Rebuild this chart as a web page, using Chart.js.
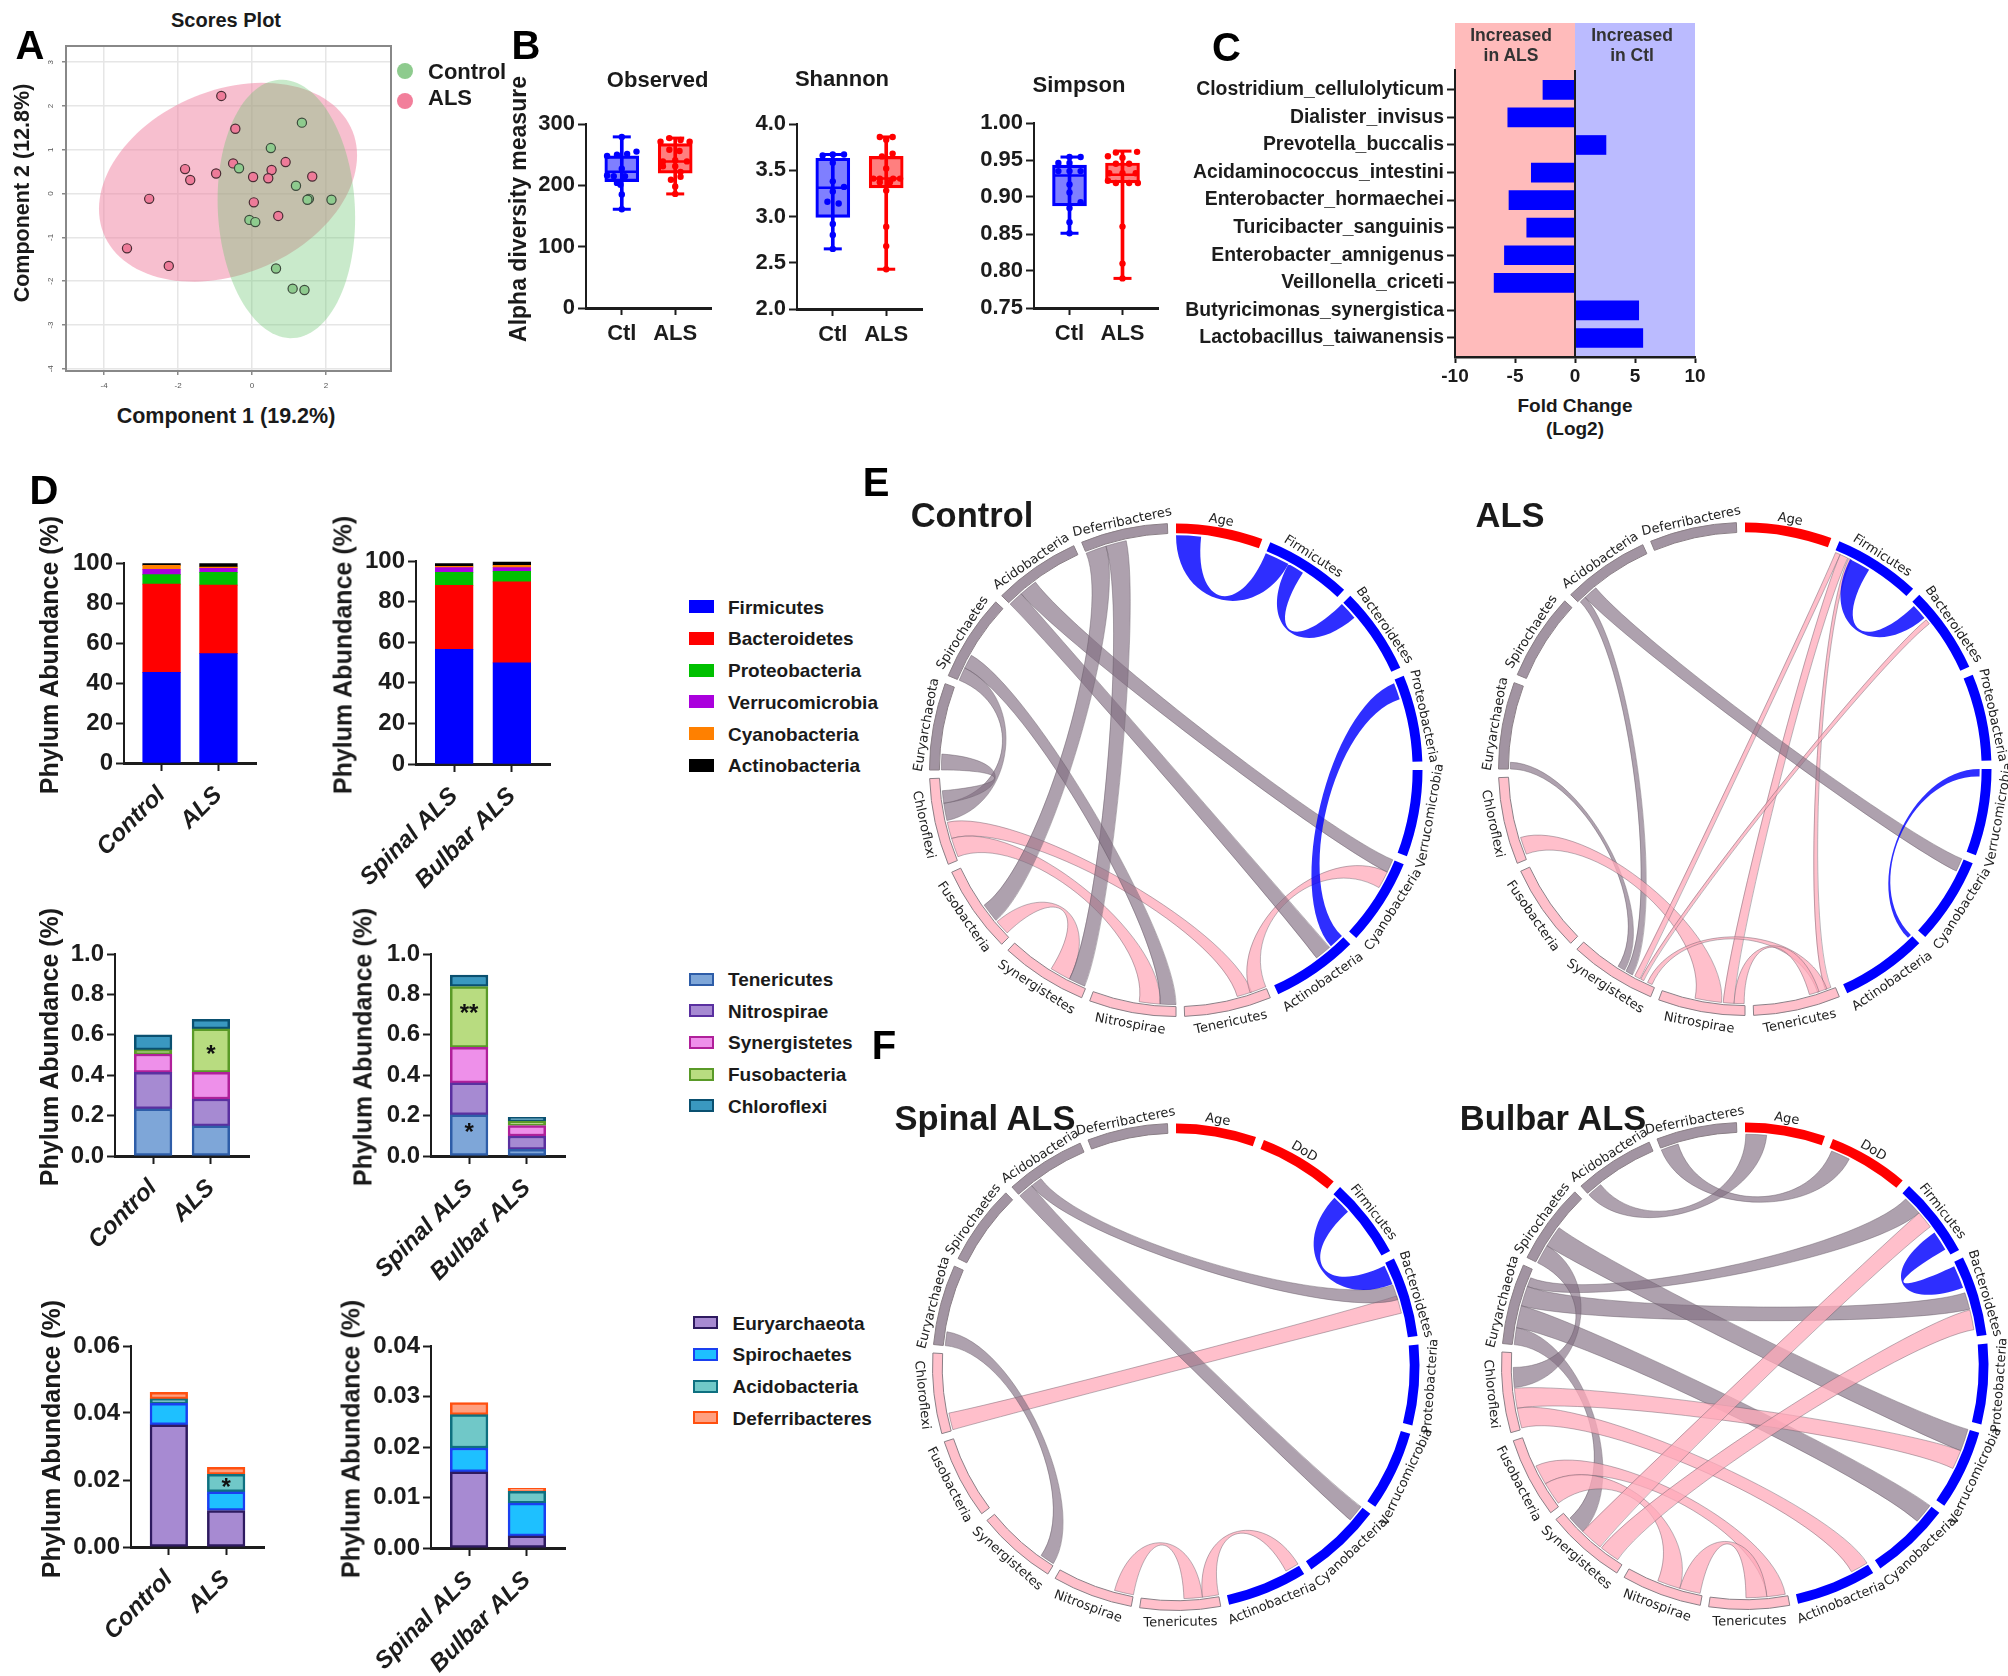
<!DOCTYPE html>
<html>
<head>
<meta charset="utf-8">
<title>ALS microbiome figure</title>
<script src="https://cdn.jsdelivr.net/npm/chart.js"></script>
<style>
html, body { margin: 0; background: #fff; overflow: hidden; }
#page { position: relative; width: 2008px; height: 1676px; overflow: hidden; }
canvas { position: absolute; }
.t { position: absolute; white-space: pre; font-family: 'Liberation Sans', Arial, sans-serif; transform-origin: center; color: #1a1a1a; line-height: 1; }
.sw { position: absolute; box-sizing: border-box; }
</style>
</head>
<body>
<div id="page"></div>
<script>
// --- panel A
const alsScores = [[-0.83,2.23],[-0.45,1.48],[-0.51,0.69],[-1.81,0.56],[-1.67,0.31],[-0.97,0.46],[0.03,0.38],[0.53,0.54],[0.44,0.35],[0.91,0.72],[1.63,0.39],[0.05,-0.2],[0.71,-0.51],[-2.78,-0.12],[-3.38,-1.25],[-2.25,-1.65]]
const ctlScores = [[1.35,1.62],[0.51,1.04],[-0.35,0.58],[1.19,0.18],[1.54,-0.12],[1.5,-0.14],[2.15,-0.14],[-0.07,-0.6],[0.09,-0.65],[0.65,-1.71],[1.1,-2.17],[1.42,-2.2]]
// cx, cy, half width, half height, correlation
const alsEllipse = [-0.648, 0.259, 3.49, 2.27, 0.27]
const ctlEllipse = [0.93, -0.35, 1.86, 2.95, -0.07]

// --- panel B: min, q1, median, q3, max
const obsCtlBox = [161, 206, 222, 248, 279]
const obsAlsBox = [186, 220, 239, 268, 277]
const obsCtlPts = [[0,279],[-0.275,248],[-0.09,250],[0.1,251],[0.275,255],[-0.275,216],[-0.15,215],[0,227],[0.06,215],[-0.09,204],[-0.025,201],[0,185],[0,161]]
const obsAlsPts = [[0.89,277],[1.1,274],[0.725,271],[1.27,271],[0.89,258],[1.08,256],[0.77,239],[1,241],[1.22,239],[0.77,231],[1,231],[1.1,222],[1.1,214],[0.92,209],[1,198],[1,186]]
const shaCtlBox = [2.65, 2.99, 3.31, 3.63, 3.67]
const shaAlsBox = [2.43, 3.31, 3.41, 3.65, 3.86]
const shaCtlPts = [[-0.19,3.66],[0,3.67],[0.21,3.67],[0,3.58],[0,3.38],[0.21,3.32],[0,3.27],[-0.1,3.16],[0.11,3.14],[0,2.92],[0,2.8],[0,2.65]]
const shaAlsPts = [[0.88,3.86],[1.12,3.86],[1,3.83],[1.12,3.68],[0.92,3.65],[1,3.52],[0.76,3.41],[0.88,3.41],[1.13,3.41],[1.26,3.41],[0.88,3.37],[1.07,3.37],[1,3.28],[1,2.89],[1,2.68],[1,2.43]]
const simCtlBox = [0.851, 0.888, 0.929, 0.943, 0.954]
const simAlsBox = [0.79, 0.919, 0.93, 0.946, 0.962]
const simCtlPts = [[-0.21,0.946],[0,0.954],[0.21,0.954],[0,0.946],[-0.21,0.935],[0,0.935],[0.21,0.935],[0,0.917],[0,0.906],[0.21,0.893],[0,0.885],[0,0.866],[0,0.851]]
const simAlsPts = [[0.875,0.96],[1.275,0.961],[0.725,0.955],[1,0.953],[0.875,0.945],[1.125,0.945],[1,0.932],[0.75,0.932],[1.25,0.932],[0.725,0.922],[0.875,0.919],[1.125,0.919],[1.29,0.919],[1,0.86],[1,0.81],[1,0.79]]

// --- panel C
const speciesNames = ['Clostridium_cellulolyticum','Dialister_invisus','Prevotella_buccalis','Acidaminococcus_intestini','Enterobacter_hormaechei','Turicibacter_sanguinis','Enterobacter_amnigenus','Veillonella_criceti','Butyricimonas_synergistica','Lactobacillus_taiwanensis']
const foldChange = [-2.67, -5.6, 2.58, -3.64, -5.5, -4.02, -5.88, -6.74, 5.31, 5.65]

// --- panel D
const majorPhyla = ['Firmicutes','Bacteroidetes','Proteobacteria','Verrucomicrobia','Cyanobacteria','Actinobacteria']
const majorFill = ['#0000ff','#ff0000','#00c000','#aa00dd','#ff8000','#000000']
const midPhyla = ['Tenericutes','Nitrospirae','Synergistetes','Fusobacteria','Chloroflexi']
const midFill = ['#7ea6d8','#a68ad2','#ee90ea','#b8dc80','#3a98c0']
const midEdge = ['#2e5da8','#5a30a0','#b0209a','#5a9a28','#0a5070']
const minorPhyla = ['Euryarchaeota','Spirochaetes','Acidobacteria','Deferribacteres']
const minorFill = ['#a78ad2','#1ec0ff','#70c8c8','#ffa080']
const minorEdge = ['#2e1a60','#1a40f0','#0e7080','#ff5010']

const groupCtlAls = ['Control','ALS']
const groupOnset = ['Spinal ALS','Bulbar ALS']
const majorCtl = [45.3, 44.1, 4.8, 2.6, 2.0, 0.9]
const majorAls = [54.7, 34.2, 6.4, 2.0, 0.7, 1.7]
const majorSpinal = [56.5, 31.5, 6.4, 2.3, 0.7, 1.3]
const majorBulbar = [49.8, 39.9, 5.2, 1.8, 1.2, 1.6]
const midCtl = [0.234, 0.18, 0.091, 0.02, 0.075]
const midAls = [0.149, 0.133, 0.132, 0.215, 0.048]
const midSpinal = [0.204, 0.158, 0.176, 0.301, 0.057]
const midBulbar = [0.033, 0.066, 0.052, 0.022, 0.019]
const minorCtl = [0.0365, 0.0064, 0.0013, 0.002]
const minorAls = [0.0109, 0.0056, 0.0052, 0.0021]
const minorSpinal = [0.0151, 0.0047, 0.0066, 0.0024]
const minorBulbar = [0.0024, 0.0065, 0.0023, 0.0006]
// bar, value, text
const midStarsAls = [[1, 0.521, '*']]
const midStarsOnset = [[0, 0.724, '**'], [0, 0.135, '*']]
const minorStarsAls = [[1, 0.0189, '*']]

// --- panels E, F: sectors are listed clockwise from the top
const sectorsE = ['Age','Firmicutes','Bacteroidetes','Proteobacteria','Verrucomicrobia','Cyanobacteria','Actinobacteria','Tenericutes','Nitrospirae','Synergistetes','Fusobacteria','Chloroflexi','Euryarchaeota','Spirochaetes','Acidobacteria','Deferribacteres']
const sectorsF = ['Age','DoD','Firmicutes','Bacteroidetes','Proteobacteria','Verrucomicrobia','Cyanobacteria','Actinobacteria','Tenericutes','Nitrospirae','Synergistetes','Fusobacteria','Chloroflexi','Euryarchaeota','Spirochaetes','Acidobacteria','Deferribacteres']
// sector A, from, to (share of the sector), sector B, from, to, kind
const linksControl = [
  [11,0.27,0.47, 7,0.18,0.36,'p'], [11,0.04,0.27, 8,0.19,0.44,'p'], [10,0.05,0.23, 9,0.22,0.47,'p'],
  [5,0.16,0.37, 7,0,0.2,'p'],
  [14,0.18,0.4, 5,0,0.16,'g'], [14,0,0.18, 6,0.2,0.4,'g'], [15,0,0.25, 10,0.25,0.48,'g'], [15,0.25,0.5, 9,0.02,0.22,'g'],
  [13,0.16,0.33, 8,0,0.19,'g'], [13,0,0.16, 11,0.49,0.7,'g'], [12,0,0.19, 11,0.7,0.85,'g'],
  [0,0,0.3, 1,0,0.3,'b'], [1,0.3,0.5, 2,0,0.22,'b'], [3,0.04,0.24, 6,0,0.18,'b']
]
const linksAls = [
  [14,0.02,0.1, 9,0.3,0.39,'g'], [12,0,0.08, 9,0.41,0.5,'g'],
  [11,0.06,0.27, 8,0.28,0.6,'p'], [1,0.01,0.07, 9,0.2,0.27,'p'], [1,0.07,0.17, 8,0.13,0.26,'p'], [1,0.18,0.22, 7,0.05,0.12,'p'],
  [2,0.27,0.33, 9,0.15,0.19,'p'], [9,0.04,0.1, 7,0.1,0.22,'p'], [8,0.01,0.13, 7,0.2,0.32,'p'],
  [14,0.1,0.27, 5,0,0.16,'g'],
  [1,0.2,0.46, 2,0.05,0.24,'b'], [4,0,0.09, 6,0,0.05,'b']
]
const linksSpinal = [
  [12,0.01,0.23, 3,0.45,0.68,'p'], [9,0,0.25, 8,0.21,0.45,'p'], [8,0,0.21, 7,0,0.18,'p'],
  [15,0.2,0.35, 3,0.3,0.5,'g'], [15,0,0.2, 6,0,0.22,'g'], [13,0,0.18, 10,0.01,0.2,'g'],
  [2,0.04,0.29, 3,0.03,0.29,'b']
]
const linksBulbar = [
  [16,0,0.23, 1,0.04,0.29,'g'], [15,0,0.2, 0,0.01,0.28,'g'], [13,0.77,0.89, 2,0.08,0.33,'g'], [13,0.51,0.77, 3,0.42,0.64,'g'],
  [13,0.22,0.51, 6,0,0.26,'g'], [13,0,0.22, 10,0.66,0.9,'g'], [14,0.25,0.53, 5,0,0.29,'g'], [14,0,0.25, 12,0.55,0.81,'g'],
  [12,0.28,0.54, 5,0.29,0.54,'p'], [12,0.02,0.28, 7,0,0.23,'p'], [11,0.34,0.6, 8,0.03,0.27,'p'], [11,0.04,0.34, 9,0.3,0.6,'p'],
  [9,0.03,0.3, 8,0.27,0.54,'p'], [10,0.36,0.66, 2,0.33,0.56,'p'], [10,0.08,0.34, 3,0.65,0.91,'p'],
  [2,0.65,0.91, 3,0.05,0.35,'b']
]

const page = document.getElementById('page')
const sans = "'Liberation Sans', Arial, sans-serif"
const ink = '#1c1c1c'

Chart.defaults.animation = false
Chart.defaults.responsive = false
Chart.defaults.events = []
Chart.defaults.plugins.legend.display = false
Chart.defaults.plugins.tooltip.enabled = false
Chart.defaults.font.family = sans

function text(str, x, y, size, o) {
  o = o || {}
  const d = document.createElement('div')
  d.className = 't'
  d.textContent = str
  d.style.left = x + 'px'
  d.style.top = y + 'px'
  d.style.fontSize = size + 'px'
  d.style.fontWeight = o.weight || 'bold'
  if (o.color) d.style.color = o.color
  d.style.transform = 'translate(' + (o.left ? '0' : '-50%') + ',-50%) rotate(' + (o.rot || 0) + 'deg)'
  page.appendChild(d)
}

function swatch(x, y, w, h, fill, edge) {
  const d = document.createElement('div')
  d.className = 'sw'
  d.style.cssText = 'left:' + x + 'px;top:' + (y - h / 2) + 'px;width:' + w + 'px;height:' + h + 'px;background:' + fill + ';' + (edge ? 'border:2.5px solid ' + edge : '')
  page.appendChild(d)
  return d
}

function makeCanvas(x, y, w, h) {
  const c = document.createElement('canvas')
  c.width = w
  c.height = h
  c.style.left = x + 'px'
  c.style.top = y + 'px'
  page.appendChild(c)
  return c
}

// chart whose plot area lands on x0..x1, y0..y1 of the page
function plotChart(r, m, config) {
  const c = makeCanvas(r.x0 - m.l, r.y0 - m.t, r.x1 - r.x0 + m.l + m.r, r.y1 - r.y0 + m.t + m.b)
  config.options.layout = { padding: { top: m.t, right: m.r, left: 0, bottom: 0 } }
  config.options.scales.x.afterFit = s => { s.height = m.b }
  config.options.scales.y.afterFit = s => { s.width = m.l }
  return new Chart(c, config)
}

function axisGrid(tick, lineW) {
  return { display: true, offset: false, drawOnChartArea: false, drawTicks: true, tickLength: tick, tickColor: ink, tickWidth: lineW || 2 }
}

function twoTicks(s) {
  s.ticks = [{ value: 0 }, { value: 1 }]
}

// --- A
function scoresPlot() {
  const ellipses = [[alsEllipse, 'rgba(240,128,160,0.5)'], [ctlEllipse, 'rgba(100,195,105,0.35)']]
  plotChart({ x0: 66, x1: 391, y0: 46, y1: 371 }, { l: 46, r: 8, t: 6, b: 30 }, {
    type: 'scatter',
    data: {
      datasets: [
        { data: ctlScores.map(p => ({ x: p[0], y: p[1] })), backgroundColor: '#8ecb8e', borderColor: '#3c4a3c', borderWidth: 1.2, pointRadius: 4.6 },
        { data: alsScores.map(p => ({ x: p[0], y: p[1] })), backgroundColor: '#ee7b99', borderColor: '#4a2c34', borderWidth: 1.2, pointRadius: 4.6 }
      ]
    },
    options: {
      scales: {
        x: {
          type: 'linear', min: -5.03, max: 3.76, afterBuildTicks: s => { s.ticks = [-4, -2, 0, 2].map(v => ({ value: v })) },
          grid: { color: '#e6e6e6', lineWidth: 1.5, tickLength: 4, tickColor: '#888' }, border: { color: '#888', width: 2 },
          ticks: { font: { size: 8 }, color: '#555', padding: 6, maxRotation: 0 }
        },
        y: {
          min: -4.05, max: 3.37, afterBuildTicks: s => { s.ticks = [-4, -3, -2, -1, 0, 1, 2, 3].map(v => ({ value: v })) },
          grid: { color: '#e6e6e6', lineWidth: 1.5, tickLength: 4, tickColor: '#888' }, border: { color: '#888', width: 2 },
          ticks: { display: false }
        }
      }
    },
    plugins: [{
      id: 'ellipses',
      beforeDatasetsDraw(chart) {
        const ctx = chart.ctx, sx = chart.scales.x, sy = chart.scales.y
        ctx.save()
        ctx.beginPath()
        ctx.rect(chart.chartArea.left, chart.chartArea.top, chart.chartArea.width, chart.chartArea.height)
        ctx.clip()
        ellipses.forEach(e => {
          const v = e[0], phi = Math.asin(v[4])
          ctx.beginPath()
          for (let i = 0; i < 120; i++) {
            const t = i / 120 * Math.PI * 2
            ctx.lineTo(sx.getPixelForValue(v[0] + v[2] * Math.cos(t)), sy.getPixelForValue(v[1] + v[3] * Math.sin(t + phi)))
          }
          ctx.closePath()
          ctx.fillStyle = e[1]
          ctx.fill()
        })
        ctx.restore()
      },
      afterDraw(chart) {
        const ctx = chart.ctx, a = chart.chartArea, sy = chart.scales.y
        ctx.save()
        ctx.strokeStyle = '#888'
        ctx.lineWidth = 2
        ctx.strokeRect(a.left, a.top, a.width, a.height)
        ctx.fillStyle = '#555'
        ctx.font = '8px ' + sans
        ctx.textAlign = 'center'
        ctx.textBaseline = 'middle'
        sy.ticks.forEach(t => {
          ctx.save()
          ctx.translate(a.left - 15, sy.getPixelForValue(t.value))
          ctx.rotate(-Math.PI / 2)
          ctx.fillText(String(t.value), 0, 0)
          ctx.restore()
        })
        ctx.restore()
      }
    }]
  })
  text('Scores Plot', 226, 20, 20)
  text('Component 1 (19.2%)', 226, 417, 21.5)
  text('Component 2 (12.8%)', 23, 193, 21.5, { rot: -90 })
  swatch(396.5, 71, 16, 16, '#8ecb8e').style.borderRadius = '50%'
  swatch(396.5, 101, 16, 16, '#f27f9b').style.borderRadius = '50%'
  text('Control', 428, 72, 22, { left: true })
  text('ALS', 428, 98, 22, { left: true })
}

// --- B
function boxDatasets(stats, pts, x, hue, fill) {
  const cap = [{ x: x, y: stats[0] }, { x: x, y: stats[4] }]
  return [
    { type: 'scatter', data: pts.map(p => ({ x: p[0], y: p[1] })), backgroundColor: hue, borderColor: hue, pointRadius: 3.2, borderWidth: 0 },
    { type: 'scatter', data: [{ x: x, y: stats[2] }], pointStyle: 'line', pointRadius: 16.5, borderColor: hue, borderWidth: 2.5 },
    { type: 'scatter', data: cap, pointStyle: 'line', pointRadius: 9, borderColor: hue, borderWidth: 3 },
    { type: 'bar', data: [{ x: x, y: [stats[1], stats[3]] }], barThickness: 34, backgroundColor: fill, borderColor: hue, borderWidth: 2.5, borderSkipped: false },
    { type: 'bar', data: [{ x: x, y: [stats[0], stats[4]] }], barThickness: 3, backgroundColor: hue, borderWidth: 0 }
  ]
}

function boxPanel(r, title, titleX, titleY, ctlBox, ctlPts, alsBox, alsPts, yMin, yMax, step, digits) {
  plotChart(r, { l: 80, r: 30, t: 30, b: 44 }, {
    type: 'bar',
    data: { datasets: boxDatasets(ctlBox, ctlPts, 0, '#0000ff', 'rgba(0,0,255,0.5)').concat(boxDatasets(alsBox, alsPts, 1, '#ff0000', 'rgba(255,0,0,0.5)')) },
    options: {
      datasets: { bar: { grouped: false } },
      scales: {
        x: {
          type: 'linear', offset: false, min: -0.67, max: 1.67, afterBuildTicks: twoTicks,
          grid: axisGrid(7), border: { color: ink, width: 3 },
          ticks: { callback: v => (v === 0 ? 'Ctl' : 'ALS'), font: { size: 22, weight: 'bold' }, color: ink, padding: 6, maxRotation: 0, autoSkip: false }
        },
        y: {
          min: yMin, max: yMax, ticks: { stepSize: step, callback: v => v.toFixed(digits), font: { size: 22, weight: 'bold' }, color: ink, padding: 3 },
          grid: axisGrid(8), border: { color: ink, width: 2 }
        }
      }
    }
  })
  text(title, titleX, titleY, 22)
}

// --- C
function foldPanel() {
  plotChart({ x0: 1455, x1: 1695.5, y0: 70, y1: 357 }, { l: 290, r: 22, t: 47, b: 34 }, {
    type: 'bar',
    data: { datasets: [{ data: foldChange.map((v, i) => ({ x: v, y: i })), backgroundColor: '#0000ff', barThickness: 19 }] },
    options: {
      indexAxis: 'y',
      scales: {
        x: {
          type: 'linear', min: -10, max: 10, ticks: { stepSize: 5, font: { size: 19, weight: 'bold' }, color: ink, padding: 2, maxRotation: 0 },
          grid: axisGrid(6), border: { color: ink, width: 2.5 }
        },
        y: {
          type: 'linear', offset: false, reverse: true, min: -0.72, max: 9.69, afterBuildTicks: s => { s.ticks = speciesNames.map((n, i) => ({ value: i })) },
          ticks: { callback: v => speciesNames[v], font: { size: 19.4, weight: 'bold' }, color: ink, padding: 3, autoSkip: false },
          grid: axisGrid(8), border: { color: ink, width: 2 }
        }
      }
    },
    plugins: [{
      id: 'bands',
      beforeDraw(chart) {
        const ctx = chart.ctx, a = chart.chartArea, sx = chart.scales.x
        const zero = sx.getPixelForValue(0)
        ctx.fillStyle = '#ffbbbb'
        ctx.fillRect(a.left, 0, zero - a.left, a.bottom)
        ctx.fillStyle = '#bbbbff'
        ctx.fillRect(zero, 0, a.right - zero, a.bottom)
      },
      afterDatasetsDraw(chart) {
        const ctx = chart.ctx, a = chart.chartArea, zero = chart.scales.x.getPixelForValue(0)
        ctx.strokeStyle = ink
        ctx.lineWidth = 2
        ctx.beginPath()
        ctx.moveTo(zero, a.top)
        ctx.lineTo(zero, a.bottom)
        ctx.stroke()
      }
    }]
  })
  text('Increased', 1511, 36, 17.5, { color: '#333' })
  text('in ALS', 1511, 56, 17.5, { color: '#333' })
  text('Increased', 1632, 36, 17.5, { color: '#333' })
  text('in Ctl', 1632, 56, 17.5, { color: '#333' })
  text('Fold Change', 1575, 405, 19)
  text('(Log2)', 1575, 428, 19)
}

// --- D
function stackPanel(r, groups, names, fill, edge, left, right, yMax, step, digits, stars) {
  const datasets = names.map((n, i) => ({
    label: n,
    data: [{ x: 0, y: left[i] }, { x: 1, y: right[i] }],
    backgroundColor: fill[i],
    borderColor: edge ? edge[i] : fill[i],
    borderWidth: edge ? 2.5 : 0,
    borderSkipped: false,
    barThickness: 37.6
  }))
  plotChart(r, { l: 110, r: 8, t: 30, b: 130 }, {
    type: 'bar',
    data: { datasets: datasets },
    options: {
      scales: {
        x: {
          type: 'linear', offset: false, stacked: true, min: -0.66, max: 1.66, afterBuildTicks: twoTicks,
          ticks: { callback: v => groups[v], font: { size: 24, weight: 'bold', style: 'italic' }, color: ink, minRotation: 45, maxRotation: 45, autoSkip: false, padding: 10 },
          grid: axisGrid(8), border: { color: ink, width: 3 }
        },
        y: {
          stacked: true, min: 0, max: yMax, ticks: { stepSize: step, callback: v => v.toFixed(digits), font: { size: 24, weight: 'bold' }, color: ink, padding: 3 },
          grid: axisGrid(8), border: { color: ink, width: 2 }
        }
      }
    },
    plugins: [{
      id: 'stars',
      afterDatasetsDraw(chart) {
        const ctx = chart.ctx
        ctx.fillStyle = '#111'
        ctx.font = 'bold 24px ' + sans
        ctx.textAlign = 'center'
        ctx.textBaseline = 'middle'
        ;(stars || []).forEach(s => ctx.fillText(s[2], chart.scales.x.getPixelForValue(s[0]), chart.scales.y.getPixelForValue(s[1]) + 5))
      }
    }]
  })
}

function phylumLegend(names, fill, edge, x, y0, textX) {
  names.forEach((n, i) => {
    const y = y0 + i * 31.7
    swatch(x, y, 25, 13, fill[i], edge ? edge[i] : null)
    text(n, textX, y, 19, { left: true })
  })
}

// --- E, F
function chord(cx, cy, r, names, span, gap, links) {
  const half = r + 45
  const c = makeCanvas(cx - half, cy - half, half * 2, half * 2)
  const kindFill = { g: 'rgba(130,110,130,0.65)', p: 'rgba(255,170,185,0.75)', b: 'rgba(0,0,255,0.82)' }
  const sectorFill = names.map(n => {
    const i = sectorsF.indexOf(n)
    if (i < 2) return '#ff0000'
    if (i < 8) return '#0000ff'
    if (i < 13) return '#ffc0cb'
    return '#a294a2'
  })
  const values = [], colours = [], edges = [], widths = []
  names.forEach((n, i) => {
    values.push(span, gap)
    colours.push(sectorFill[i], 'rgba(0,0,0,0)')
    edges.push('#8a7f86', 'rgba(0,0,0,0)')
    widths.push(sectorFill[i] === '#ffc0cb' || sectorFill[i] === '#a294a2' ? 1 : 0, 0)
  })
  new Chart(c, {
    type: 'doughnut',
    data: { labels: values.map((v, i) => (i % 2 ? '' : names[i / 2])), datasets: [{ data: values, backgroundColor: colours, borderColor: edges, borderWidth: widths }] },
    options: { cutout: '96%', radius: '100%', layout: { padding: half - r } },
    plugins: [{
      id: 'ribbons',
      beforeDatasetsDraw(chart) {
        const ctx = chart.ctx, arcs = chart.getDatasetMeta(0).data
        const x = arcs[0].x, y = arcs[0].y, R = arcs[0].innerRadius - 2
        const ang = (s, f) => {
          const a = arcs[s * 2]
          return a.startAngle + f * (a.endAngle - a.startAngle)
        }
        const px = (a, k) => x + R * k * Math.cos(a)
        const py = (a, k) => y + R * k * Math.sin(a)
        const bend = 0.7
        links.forEach(l => {
          const a0 = ang(l[0], l[1]), a1 = ang(l[0], l[2]), b0 = ang(l[3], l[4]), b1 = ang(l[3], l[5])
          // keep the ribbon flat: walk clockwise from the first sector to the second
          const first = l[0] < l[3] ? [a0, a1, b0, b1] : [b0, b1, a0, a1]
          ctx.beginPath()
          ctx.arc(x, y, R, first[0], first[1])
          ctx.bezierCurveTo(px(first[1], bend), py(first[1], bend), px(first[2], bend), py(first[2], bend), px(first[2], 1), py(first[2], 1))
          ctx.arc(x, y, R, first[2], first[3])
          ctx.bezierCurveTo(px(first[3], bend), py(first[3], bend), px(first[0], bend), py(first[0], bend), px(first[0], 1), py(first[0], 1))
          ctx.closePath()
          ctx.fillStyle = kindFill[l[6]]
          ctx.fill()
          if (l[6] !== 'b') {
            ctx.strokeStyle = 'rgba(100,90,100,0.55)'
            ctx.lineWidth = 0.8
            ctx.stroke()
          }
        })
      },
      afterDatasetsDraw(chart) {
        const ctx = chart.ctx, arcs = chart.getDatasetMeta(0).data
        const x = arcs[0].x, y = arcs[0].y, outer = arcs[0].outerRadius
        ctx.fillStyle = '#222'
        ctx.font = '13px "DejaVu Sans"'
        ctx.textAlign = 'center'
        ctx.textBaseline = 'middle'
        names.forEach((n, i) => {
          const a = (arcs[i * 2].startAngle + arcs[i * 2].endAngle) / 2
          const fromTop = a + Math.PI / 2
          const flip = fromTop > Math.PI / 2 && fromTop < Math.PI * 1.5
          const rad = outer + (flip ? 12 : 7)
          ctx.save()
          ctx.translate(x + rad * Math.cos(a), y + rad * Math.sin(a))
          ctx.rotate(flip ? fromTop + Math.PI : fromTop)
          ctx.fillText(n, 0, 0)
          ctx.restore()
        })
      }
    }]
  })
}

scoresPlot()

boxPanel({ x0: 586, x1: 711, y0: 124, y1: 308.7 }, 'Observed', 657.6, 80, obsCtlBox, obsCtlPts, obsAlsBox, obsAlsPts, 0, 300, 100, 0)
boxPanel({ x0: 797, x1: 922, y0: 124, y1: 309.7 }, 'Shannon', 842, 79, shaCtlBox, shaCtlPts, shaAlsBox, shaAlsPts, 2, 4, 0.5, 1)
boxPanel({ x0: 1034, x1: 1158.5, y0: 123.3, y1: 308.7 }, 'Simpson', 1079, 85, simCtlBox, simCtlPts, simAlsBox, simAlsPts, 0.75, 1, 0.05, 2)
text('Alpha diversity measure', 518, 209, 23, { rot: -90 })

foldPanel()

stackPanel({ x0: 124, x1: 256, y0: 562.7, y1: 763.3 }, groupCtlAls, majorPhyla, majorFill, null, majorCtl, majorAls, 100, 20, 0)
stackPanel({ x0: 415.6, x1: 550, y0: 560.7, y1: 764.3 }, groupOnset, majorPhyla, majorFill, null, majorSpinal, majorBulbar, 100, 20, 0)
stackPanel({ x0: 115.4, x1: 250, y0: 954, y1: 1156 }, groupCtlAls, midPhyla, midFill, midEdge, midCtl, midAls, 1, 0.2, 1, midStarsAls)
stackPanel({ x0: 430.8, x1: 565.5, y0: 954, y1: 1156.7 }, groupOnset, midPhyla, midFill, midEdge, midSpinal, midBulbar, 1, 0.2, 1, midStarsOnset)
stackPanel({ x0: 130.5, x1: 264, y0: 1346, y1: 1547.7 }, groupCtlAls, minorPhyla, minorFill, minorEdge, minorCtl, minorAls, 0.06, 0.02, 2, minorStarsAls)
stackPanel({ x0: 430.7, x1: 565.5, y0: 1346, y1: 1548 }, groupOnset, minorPhyla, minorFill, minorEdge, minorSpinal, minorBulbar, 0.04, 0.01, 2)

text('Phylum Abundance (%)', 49, 655, 25, { rot: -90 })
text('Phylum Abundance (%)', 342.6, 655, 25, { rot: -90 })
text('Phylum Abundance (%)', 49, 1047, 25, { rot: -90 })
text('Phylum Abundance (%)', 363, 1047, 25, { rot: -90 })
text('Phylum Abundance (%)', 51, 1439, 25, { rot: -90 })
text('Phylum Abundance (%)', 351, 1439, 25, { rot: -90 })

phylumLegend(majorPhyla, majorFill, null, 689, 606.7, 728)
phylumLegend(midPhyla, midFill, midEdge, 689, 979, 728)
phylumLegend(minorPhyla, minorFill, minorEdge, 693, 1322.7, 732.5)

chord(1175.6, 769.6, 247, sectorsE, 20.5, 2, linksControl)
chord(1745, 768.5, 247, sectorsE, 20.5, 2, linksAls)
chord(1175.6, 1367, 244, sectorsF, 19.18, 2, linksSpinal)
chord(1745, 1366, 244, sectorsF, 19.18, 2, linksBulbar)

text('Control', 972, 515, 34.5)
text('ALS', 1510, 515, 34.5)
text('Spinal ALS', 985, 1118, 34.5)
text('Bulbar ALS', 1553, 1118, 34.5)

text('A', 30, 45, 40, { color: '#000' })
text('B', 526, 45, 40, { color: '#000' })
text('C', 1226.5, 47, 40, { color: '#000' })
text('D', 44, 490, 40, { color: '#000' })
text('E', 876, 482, 40, { color: '#000' })
text('F', 884, 1045, 40, { color: '#000' })
</script>
</body>
</html>
